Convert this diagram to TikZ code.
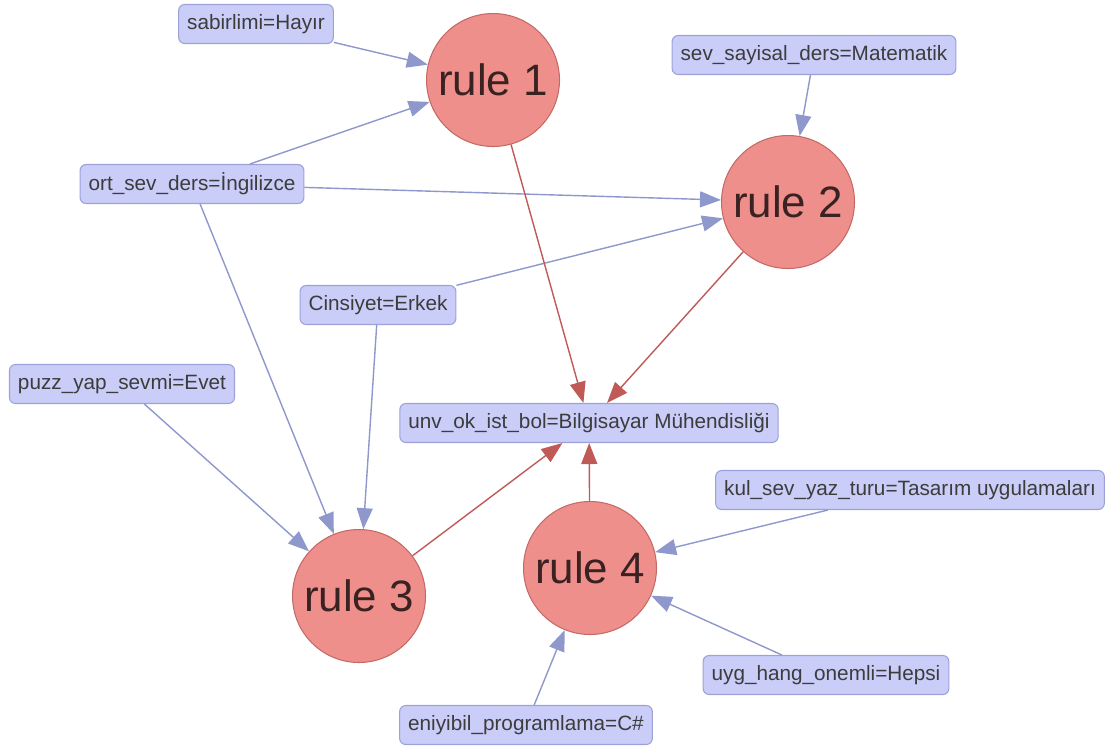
\documentclass[tikz,border=0pt]{standalone}
\usepackage{fontspec}
\setmainfont{Liberation Sans}
\usetikzlibrary{arrows.meta}
\definecolor{boxfill}{HTML}{C9CDF7}
\definecolor{boxline}{HTML}{9CA2D8}
\definecolor{rulefill}{HTML}{EE8F8C}
\definecolor{ruleline}{HTML}{C46A66}
\definecolor{condedge}{HTML}{8E98CC}
\definecolor{concledge}{HTML}{BF5A57}
\definecolor{labeltext}{HTML}{3C3C3C}
\definecolor{ruletext}{HTML}{3A2222}
\begin{document}
\begin{tikzpicture}[x=0.02cm, y=-0.02cm,
        attr/.style={draw=boxline, fill=boxfill, rounded corners=0.12cm, line width=0.6pt,
            text=labeltext, font=\fontsize{11.8}{14}\selectfont, inner xsep=0.17cm,
            minimum height=0.78cm},
        rule/.style={circle, draw=ruleline, fill=rulefill, line width=0.6pt, text=ruletext,
            font=\fontsize{25}{30}\selectfont, minimum size=2.66cm, inner sep=0pt},
        cond/.style={draw=condedge, line width=0.8pt, -{Triangle[length=0.42cm, width=0.32cm]}},
        concl/.style={draw=concledge, line width=0.8pt, -{Triangle[length=0.42cm, width=0.32cm]}}]
            \useasboundingbox (0, 0) rectangle (1109, 755);
            \node[rule] (r1) at (493, 80) {rule 1};
            \node[rule] (r2) at (788, 202) {rule 2};
            \node[rule] (r3) at (359, 596) {rule 3};
            \node[rule] (r4) at (590, 568) {rule 4};
            \node[attr] (sabir) at (256, 24) {sabirlimi=Hayır};
            \node[attr] (sayisal) at (814, 55) {sev\_sayisal\_ders=Matematik};
            \node[attr] (ortsev) at (192, 184) {ort\_sev\_ders=İngilizce};
            \node[attr] (cins) at (378, 305) {Cinsiyet=Erkek};
            \node[attr] (puzz) at (122, 384) {puzz\_yap\_sevmi=Evet};
            \node[attr] (unv) at (589, 423) {unv\_ok\_ist\_bol=Bilgisayar Mühendisliği};
            \node[attr] (kul) at (910, 490) {kul\_sev\_yaz\_turu=Tasarım uygulamaları};
            \node[attr] (uyg) at (826, 675) {uyg\_hang\_onemli=Hepsi};
            \node[attr] (eniyi) at (526, 725) {eniyibil\_programlama=C\#};
            \draw[cond] (sabir) -- (r1);
            \draw[cond] (ortsev) -- (r1);
            \draw[cond] (ortsev) -- (r2);
            \draw[cond] (ortsev) -- (r3);
            \draw[cond] (sayisal) -- (r2);
            \draw[cond] (cins) -- (r2);
            \draw[cond] (cins) -- (r3);
            \draw[cond] (puzz) -- (r3);
            \draw[cond] (kul) -- (r4);
            \draw[cond] (uyg) -- (r4);
            \draw[cond] (eniyi) -- (r4);
            \draw[concl] (r1) -- (unv);
            \draw[concl] (r2) -- (unv);
            \draw[concl] (r3) -- (unv);
            \draw[concl] (r4) -- (unv);
        \end{tikzpicture}
\end{document}
